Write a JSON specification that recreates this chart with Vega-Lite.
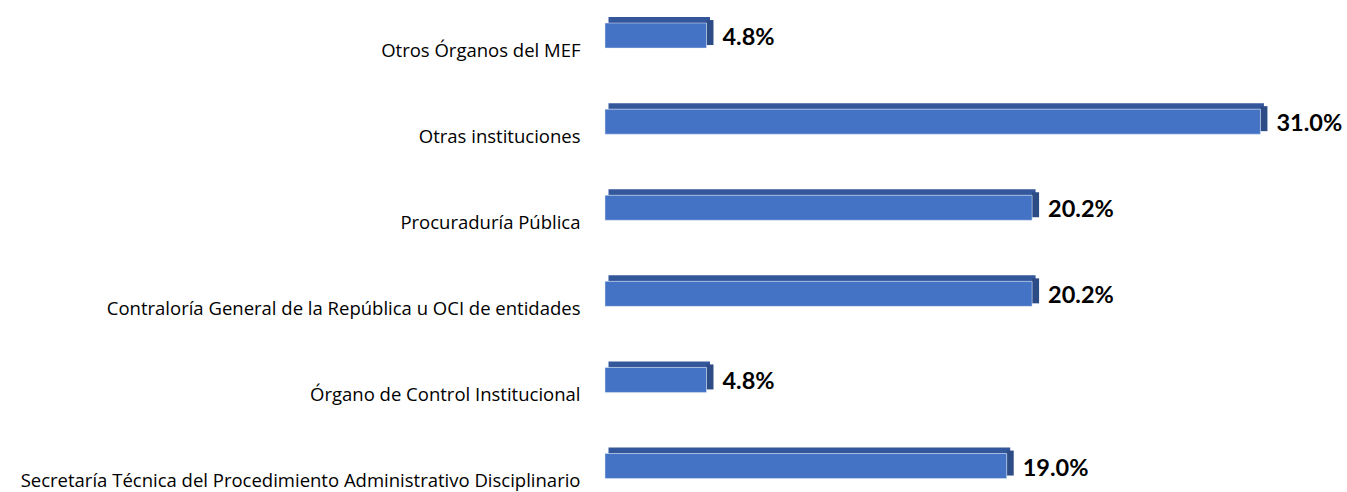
{
  "$schema": "https://vega.github.io/schema/vega-lite/v6.json",
  "width": 740,
  "height": 492,
  "autosize": {"type": "none"},
  "padding": {"left": 605, "top": 0, "right": 0, "bottom": 0},
  "background": "white",
  "config": {"view": {"stroke": null}},
  "data": {"values": [
    {"categoria": "Otros Órganos del MEF", "valor": 0.048},
    {"categoria": "Otras instituciones", "valor": 0.31},
    {"categoria": "Procuraduría Pública", "valor": 0.202},
    {"categoria": "Contraloría General de la República u OCI de entidades", "valor": 0.202},
    {"categoria": "Órgano de Control Institucional", "valor": 0.048},
    {"categoria": "Secretaría Técnica del Procedimiento Administrativo Disciplinario", "valor": 0.19}
  ]},
  "encoding": {
    "y": {"field": "categoria", "type": "nominal", "sort": null,
      "scale": {"range": [-7.5, 509.1], "paddingInner": 0, "paddingOuter": 0},
      "axis": {"title": null, "domain": false, "ticks": false, "labelPadding": 25,
        "labelOffset": 15, "labelFont": "Open Sans", "labelFontSize": 18.5, "labelColor": "#000000",
        "labelLimit": 700}},
    "x": {"field": "valor", "type": "quantitative",
      "scale": {"domain": [0, 0.35], "nice": false}, "axis": null}
  },
  "layer": [
    {"mark": {"type": "bar", "height": 6, "yOffset": -15.5, "xOffset": 3.5, "x2Offset": 3.5, "color": "#34579B"}},
    {"mark": {"type": "rect", "height": 25, "yOffset": -3, "x2Offset": 7, "color": "#2D4C86"},
      "encoding": {"x2": {"field": "valor"}}},
    {"mark": {"type": "bar", "height": 25, "color": "#4472C4", "stroke": "#E3EAF6", "strokeWidth": 0.5}},
    {"mark": {"type": "text", "align": "left", "baseline": "middle", "dx": 16, "yOffset": 2.5,
      "font": "Lato", "fontSize": 23.5, "fontWeight": "bold", "color": "#000000"},
      "encoding": {"text": {"field": "valor", "type": "quantitative", "format": ".1%"}}}
  ]
}
